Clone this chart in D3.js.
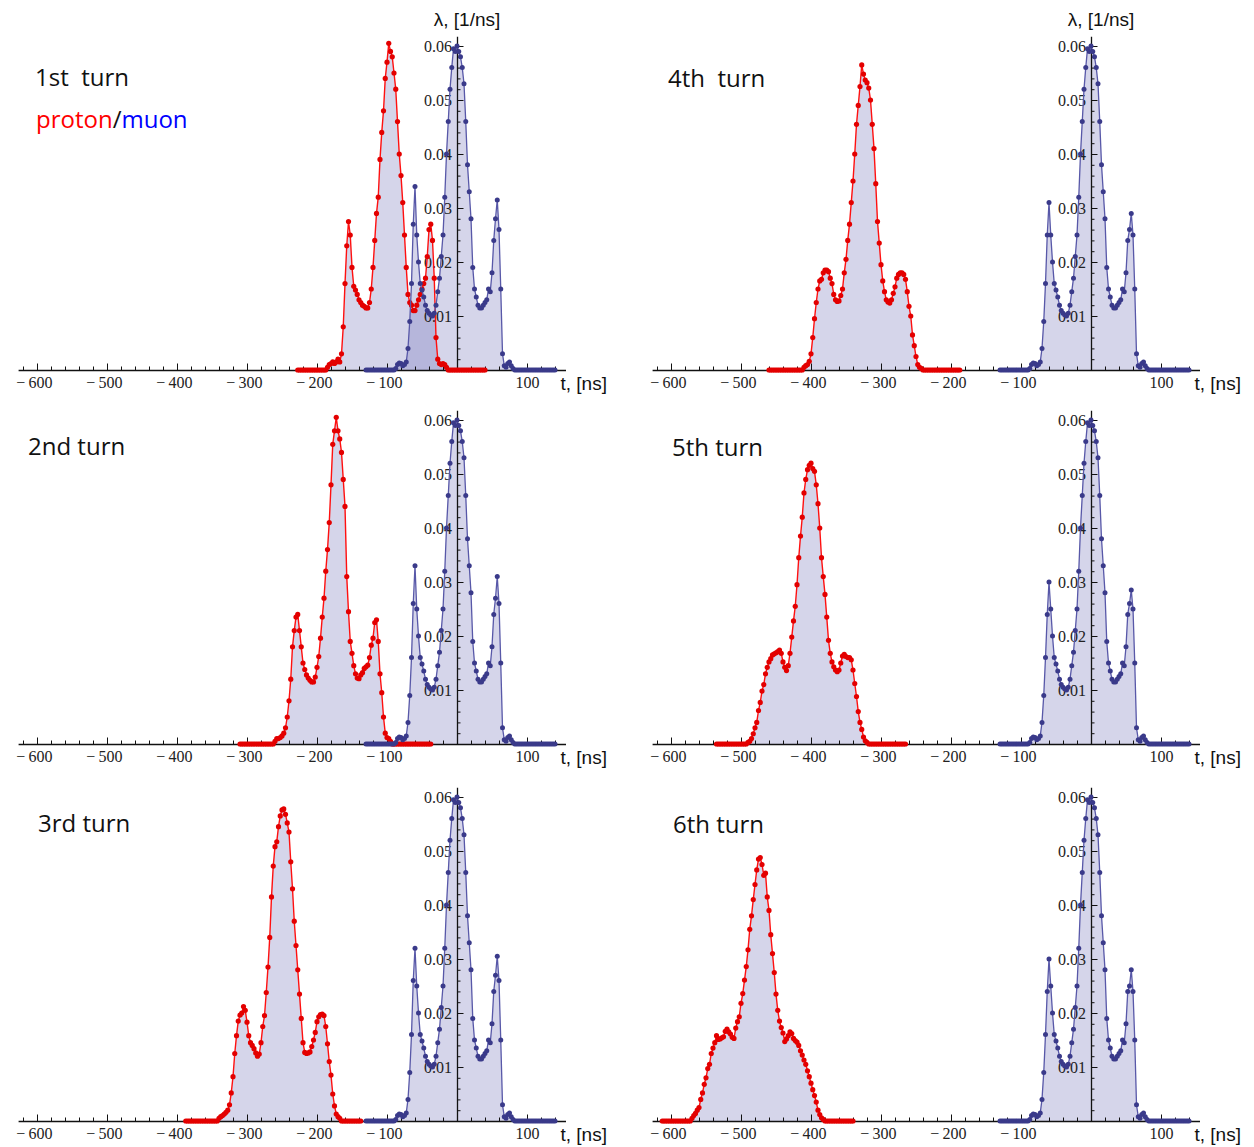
<!DOCTYPE html>
<html><head><meta charset="utf-8">
<script src="https://cdn.jsdelivr.net/npm/d3@7"></script>
<style>body{margin:0;background:#fff}svg{display:block}</style>
</head><body>
<svg id="chart" width="1254" height="1147"></svg>
<script>
// ---------------- data (λ in 1/ns, t in ns) ----------------
const dt = 2.5;                 // sampling step of every series, ns
const muonStart = -130;         // first sample time of the muon series
const protonStart = [-227.5, -310, -387.5, -460, -535, -612.5];
const turnLabels = ["1st  turn", "2nd turn", "3rd turn", "4th  turn", "5th turn", "6th turn"];
const xTickValues = [-600, -500, -400, -300, -200, -100, 100];
const yTickValues = [0.01, 0.02, 0.03, 0.04, 0.05, 0.06];

const muon1 = [0,0,0,0,0,0,0,0,0,0,0,0,0,0,0,0,0,
 .0003,.001,.0013,.0012,.0008,.001,
 .0015,.004,.009,.016,.027,.034,.025,.020,.016,.0148,.0135,.012,.011,.0105,.0102,.010,.0105,.012,.0145,.017,.021,.025,.032,.040,.046,.052,.056,.0595,.059,.060,
 .059,.058,.056,.053,.046,.038,.033,.028,.019,.015,.0135,.012,.0115,.0115,.012,.0125,.013,.015,.0145,.018,.024,.028,.0315,.026,.015,.003,.0008,.0005,.0012,.0015,.0008,.0003,
 0,0,0,0,0,0,0,0,0,0,0,0,0,0,0,0,0,0,0,0,0,0,0,0];
const muon2 = [0,0,0,0,0,0,0,0,0,0,0,0,0,0,0,0,0,
 .0003,.001,.0013,.0012,.0008,.001,
 .0015,.004,.009,.016,.026,.033,.025,.020,.016,.0148,.0135,.012,.011,.0105,.0102,.010,.0105,.012,.0145,.017,.021,.025,.032,.040,.046,.052,.056,.0595,.059,.060,
 .059,.058,.056,.053,.046,.038,.033,.028,.019,.015,.0135,.012,.0115,.0115,.012,.0125,.013,.015,.0145,.018,.024,.027,.031,.026,.015,.003,.0008,.0005,.0012,.0015,.0008,.0003,
 0,0,0,0,0,0,0,0,0,0,0,0,0,0,0,0,0,0,0,0,0,0,0,0];
const muon3 = [0,0,0,0,0,0,0,0,0,0,0,0,0,0,0,0,0,
 .0003,.001,.0013,.0012,.0008,.001,
 .0015,.004,.009,.016,.026,.032,.025,.020,.016,.0148,.0135,.012,.011,.0105,.0102,.010,.0105,.012,.0145,.017,.021,.025,.032,.040,.046,.052,.056,.0595,.059,.060,
 .059,.058,.056,.053,.046,.038,.033,.028,.019,.015,.0135,.012,.0115,.0115,.012,.0125,.013,.015,.0145,.018,.024,.027,.0305,.026,.015,.003,.0008,.0005,.0012,.0015,.0008,.0003,
 0,0,0,0,0,0,0,0,0,0,0,0,0,0,0,0,0,0,0,0,0,0,0,0];
const muon4 = [0,0,0,0,0,0,0,0,0,0,0,0,0,0,0,0,0,
 .0003,.001,.0013,.0012,.0008,.001,
 .0015,.004,.009,.016,.025,.031,.025,.020,.016,.0148,.0135,.012,.011,.0105,.0102,.010,.0105,.012,.0145,.017,.021,.025,.032,.040,.046,.052,.056,.0595,.059,.060,
 .059,.058,.056,.053,.046,.038,.033,.028,.019,.015,.0135,.012,.0115,.0115,.012,.0125,.013,.015,.0145,.018,.024,.026,.029,.025,.015,.003,.0008,.0005,.0012,.0015,.0008,.0003,
 0,0,0,0,0,0,0,0,0,0,0,0,0,0,0,0,0,0,0,0,0,0,0,0];
const muon5 = [0,0,0,0,0,0,0,0,0,0,0,0,0,0,0,0,0,
 .0003,.001,.0013,.0012,.0008,.001,
 .0015,.004,.009,.016,.024,.030,.025,.020,.016,.0148,.0135,.012,.011,.0105,.0102,.010,.0105,.012,.0145,.017,.021,.025,.032,.040,.046,.052,.056,.0595,.059,.060,
 .059,.058,.056,.053,.046,.038,.033,.028,.019,.015,.0135,.012,.0115,.0115,.012,.0125,.013,.015,.0145,.018,.024,.026,.0285,.025,.015,.003,.0008,.0005,.0012,.0015,.0008,.0003,
 0,0,0,0,0,0,0,0,0,0,0,0,0,0,0,0,0,0,0,0,0,0,0,0];
const muon6 = [0,0,0,0,0,0,0,0,0,0,0,0,0,0,0,0,0,
 .0003,.001,.0013,.0012,.0008,.001,
 .0015,.004,.009,.016,.024,.030,.025,.020,.016,.0148,.0135,.012,.011,.0105,.0102,.010,.0105,.012,.0145,.017,.021,.025,.032,.040,.046,.052,.056,.0595,.059,.060,
 .059,.058,.056,.053,.046,.038,.033,.028,.019,.015,.0135,.012,.0115,.0115,.012,.0125,.013,.015,.0145,.018,.024,.025,.028,.024,.015,.003,.0008,.0005,.0012,.0015,.0008,.0003,
 0,0,0,0,0,0,0,0,0,0,0,0,0,0,0,0,0,0,0,0,0,0,0,0];

const proton1 = [0,0,0,0,0,0,0,0,0,0,0,0,0,0,0,0,0,
 .0005,.001,.0012,.0015,.0012,.0015,.002,.0015,
 .003,.008,.016,.023,.0275,.025,.019,.0155,.0148,.014,.013,.0125,.012,.0118,.0115,.0115,.0125,.015,.019,.024,.029,.032,.039,.044,.048,.054,.057,.0605,.059,.058,.055,.052,.046,.040,.036,.031,.025,.019,.014,.0125,.012,.011,.011,.012,.013,.014,.015,.016,.017,.021,.026,.027,.024,.017,.006,.002,.0012,.001,.0012,.001,.0005,
 0,0,0,0,0,0,0,0,0,0,0,0,0,0,0,0,0,0,0,0,0,0];
const proton2 = [0,0,0,0,0,0,0,0,0,0,0,0,0,0,0,0,0,0,0,0,
 .0005,.001,.001,.0012,.0015,.002,.003,.005,.008,.012,.018,.021,.0235,.024,.021,.018,.015,.0138,.0128,.0122,.0118,.0115,.0115,.0124,.0142,.0162,.0196,.0235,.027,.032,.036,.041,.048,.0555,.058,.0605,.058,.0565,.054,.049,.044,.031,.0245,.019,.0168,.0145,.013,.0122,.0121,.0128,.0132,.014,.0143,.0146,.016,.0183,.0196,.0225,.023,.019,.013,.0095,.005,.002,.0012,.001,.0005,
 0,0,0,0,0,0,0,0,0,0,0,0,0,0,0,0,0,0,0,0,0,0,0];
const proton3 = [0,0,0,0,0,0,0,0,0,0,0,0,0,0,0,0,0,0,0,
 .0005,.0008,.001,.0013,.0016,.002,.003,.0052,.0082,.0125,.0158,.0185,.0196,.02,.0212,.0205,.0183,.0158,.0145,.014,.0134,.0126,.012,.0124,.0145,.0175,.0195,.0238,.0285,.034,.0415,.0472,.0508,.0517,.0545,.0565,.0576,.0578,.0568,.0552,.0535,.048,.043,.037,.0325,.028,.0235,.019,.0145,.0127,.0125,.0126,.0128,.0138,.015,.0164,.0184,.0193,.0197,.0198,.0195,.0175,.0143,.011,.0085,.005,.0028,.0013,.0008,.0005,
 0,0,0,0,0,0,0,0,0,0,0,0];
const proton4 = [0,0,0,0,0,0,0,0,0,0,0,0,0,0,0,0,0,0,0,0,
 .0005,.0008,.001,.0016,.003,.006,.0095,.0125,.015,.0165,.0168,.018,.0185,.0185,.0182,.017,.016,.014,.013,.0127,.0128,.0138,.015,.018,.0205,.024,.027,.031,.035,.040,.0455,.049,.0525,.0565,.0548,.0537,.0532,.0522,.050,.0455,.041,.0345,.0275,.0235,.0195,.0165,.0145,.013,.0126,.0124,.013,.0142,.0154,.017,.0177,.018,.018,.0177,.0168,.0145,.0118,.010,.0065,.0045,.0025,.001,.0005,.0003,
 0,0,0,0,0,0,0,0,0,0,0,0,0,0,0,0,0,0,0,0,0,0];
const proton5 = [0,0,0,0,0,0,0,0,0,0,0,0,0,0,0,0,0,0,
 .0003,.0005,.001,.0019,.003,.004,.0062,.0077,.0098,.011,.013,.0142,.0152,.0158,.0165,.0167,.0169,.0171,.0174,.0168,.0152,.0142,.0136,.0145,.0168,.0198,.0228,.0255,.0295,.0345,.0385,.042,.0465,.049,.0508,.0516,.052,.051,.0505,.048,.0445,.040,.0345,.031,.0277,.0235,.0192,.0168,.0152,.0143,.0137,.0134,.0137,.015,.0163,.0166,.0162,.016,.016,.0156,.0137,.0112,.0088,.006,.004,.0027,.0013,.0006,.0003,
 0,0,0,0,0,0,0,0,0,0,0,0,0,0,0,0,0,0,0,0,0,0];
const proton6 = [0,0,0,0,0,0,0,0,0,0,0,0,0,0,0,0,0,
 .0005,.001,.0014,.002,.0025,.004,.0052,.0068,.008,.0097,.0105,.0125,.0135,.0145,.0158,.0151,.0152,.0154,.0156,.0166,.017,.0165,.0161,.0155,.0153,.0172,.0184,.0193,.0218,.0236,.0261,.0286,.0317,.0355,.038,.041,.0438,.0465,.0485,.0488,.0475,.0455,.0459,.0415,.039,.0345,.031,.0275,.0235,.0205,.0185,.0173,.0163,.0147,.0152,.0158,.0165,.0162,.0153,.0149,.0146,.014,.013,.0122,.0113,.0105,.0093,.0082,.007,.0058,.0047,.0035,.002,.0012,.0006,.0003,
 0,0,0,0,0,0,0,0,0,0,0,0,0,0,0,0,0];

const muons = [muon1, muon2, muon3, muon4, muon5, muon6];
const protons = [proton1, proton2, proton3, proton4, proton5, proton6];

// ---------------- layout ----------------
const colX0 = [457, 1091];
const rowY0 = [370, 744, 1121];
const pxPerNs = 0.7, pxPerUnit = 5400;
const tMin = -627, tMax = 155, vMax = 0.0618;
const panelCell = [[0,0],[0,1],[0,2],[1,0],[1,1],[1,2]];
const titlePos = [[35,86],[28,455],[38,832],[668,87],[672,456],[673,833]];

const FILL = "rgba(105,105,178,0.28)";
const RED_LINE = "#ff1010", RED_PT = "#e30000";
const BLUE_LINE = "#5858a8", BLUE_PT = "#3a3a8a";
const TICK_FONT = "'Liberation Serif', serif";
const LABEL_FONT = "'Liberation Sans', Arial, sans-serif";
const TITLE_FONT = "'Open Sans', 'Noto Sans', sans-serif";

const svg = d3.select("#chart");
const fmtX = d => d < 0 ? "\u2212\u2009" + Math.abs(d) : String(d);

panelCell.forEach(([c, r], i) => {
  const x0 = colX0[c], y0 = rowY0[r];
  const x = d3.scaleLinear().domain([tMin, tMax]).range([x0 + tMin * pxPerNs, x0 + tMax * pxPerNs]);
  const y = d3.scaleLinear().domain([0, vMax]).range([y0, y0 - vMax * pxPerUnit]);
  const g = svg.append("g");

  const red = protons[i].map((v, k) => ({t: protonStart[i] + k * dt, v}));
  const blue = muons[i].map((v, k) => ({t: muonStart + k * dt, v}));
  const area = d3.area().x(d => x(d.t)).y0(y(0)).y1(d => y(d.v));
  const line = d3.line().x(d => x(d.t)).y(d => y(d.v));

  g.append("path").attr("d", area(red)).attr("fill", FILL);
  g.append("path").attr("d", area(blue)).attr("fill", FILL);

  // x axis
  const minorX = d3.range(-620, 141, 20).filter(v => v % 100 !== 0);
  g.append("g").attr("transform", `translate(0,${y0})`)
    .call(d3.axisBottom(x).tickValues(minorX).tickSize(-3.5).tickSizeOuter(0).tickFormat(""))
    .call(s => s.select(".domain").remove())
    .call(s => s.selectAll("line").attr("stroke", "#111"));
  g.append("g").attr("transform", `translate(0,${y0})`)
    .call(d3.axisBottom(x).tickValues(xTickValues.concat([0])).tickSize(-6.5).tickSizeOuter(0).tickPadding(7).tickFormat(d => d === 0 ? "" : fmtX(d)))
    .call(s => s.select(".domain").attr("stroke", "#111").attr("stroke-width", 1.3))
    .call(s => s.selectAll("line").attr("stroke", "#111"))
    .call(s => s.selectAll("text").attr("font-family", TICK_FONT).attr("font-size", 16).attr("fill", "#222")
      .attr("dx", d => d < 0 ? "-0.2em" : 0));

  // y axis
  const minorY = d3.range(1, 31).map(k => k * 0.002).filter(v => Math.abs(v * 100 - Math.round(v * 100)) > 1e-6);
  g.append("g").attr("transform", `translate(${x0},0)`)
    .call(d3.axisLeft(y).tickValues(minorY).tickSize(-3.5).tickSizeOuter(0).tickFormat(""))
    .call(s => s.select(".domain").remove())
    .call(s => s.selectAll("line").attr("stroke", "#111"));
  g.append("g").attr("transform", `translate(${x0},0)`)
    .call(d3.axisLeft(y).tickValues(yTickValues).tickSize(-6.5).tickSizeOuter(0).tickPadding(5).tickFormat(d3.format(".2f")))
    .call(s => s.select(".domain").attr("stroke", "#111").attr("stroke-width", 1.3))
    .call(s => s.selectAll("line").attr("stroke", "#111"))
    .call(s => s.selectAll("text").attr("font-family", TICK_FONT).attr("font-size", 16).attr("fill", "#222"));

  // curves
  g.append("path").attr("d", line(red)).attr("fill", "none").attr("stroke", RED_LINE).attr("stroke-width", 1.4);
  g.selectAll(null).data(red).enter().append("circle")
    .attr("cx", d => x(d.t)).attr("cy", d => y(d.v)).attr("r", 2.6).attr("fill", RED_PT);
  g.append("path").attr("d", line(blue)).attr("fill", "none").attr("stroke", BLUE_LINE).attr("stroke-width", 1.3);
  g.selectAll(null).data(blue).enter().append("circle")
    .attr("cx", d => x(d.t)).attr("cy", d => y(d.v)).attr("r", 2.5).attr("fill", BLUE_PT);

  // axis titles
  g.append("text").attr("x", x(tMax) - 5).attr("y", y0 + 20)
    .attr("font-family", LABEL_FONT).attr("font-size", 19).attr("fill", "#111").text("t, [ns]");
  if (r === 0) {
    g.append("text").attr("x", x0 + 10).attr("y", y0 - 344).attr("text-anchor", "middle")
      .attr("font-family", LABEL_FONT).attr("font-size", 19).attr("fill", "#111").text("\u03bb, [1/ns]");
  }

  // title
  g.append("text").attr("x", titlePos[i][0]).attr("y", titlePos[i][1])
    .attr("font-family", TITLE_FONT).attr("font-size", 24).attr("fill", "#111")
    .style("white-space", "pre").text(turnLabels[i]);
  if (i === 0) {
    const t = g.append("text").attr("x", 36).attr("y", 128)
      .attr("font-family", TITLE_FONT).attr("font-size", 24);
    t.append("tspan").attr("fill", "#ff0000").text("proton");
    t.append("tspan").attr("fill", "#111").text("/");
    t.append("tspan").attr("fill", "#0000ff").text("muon");
  }
});
</script>
</body></html>
